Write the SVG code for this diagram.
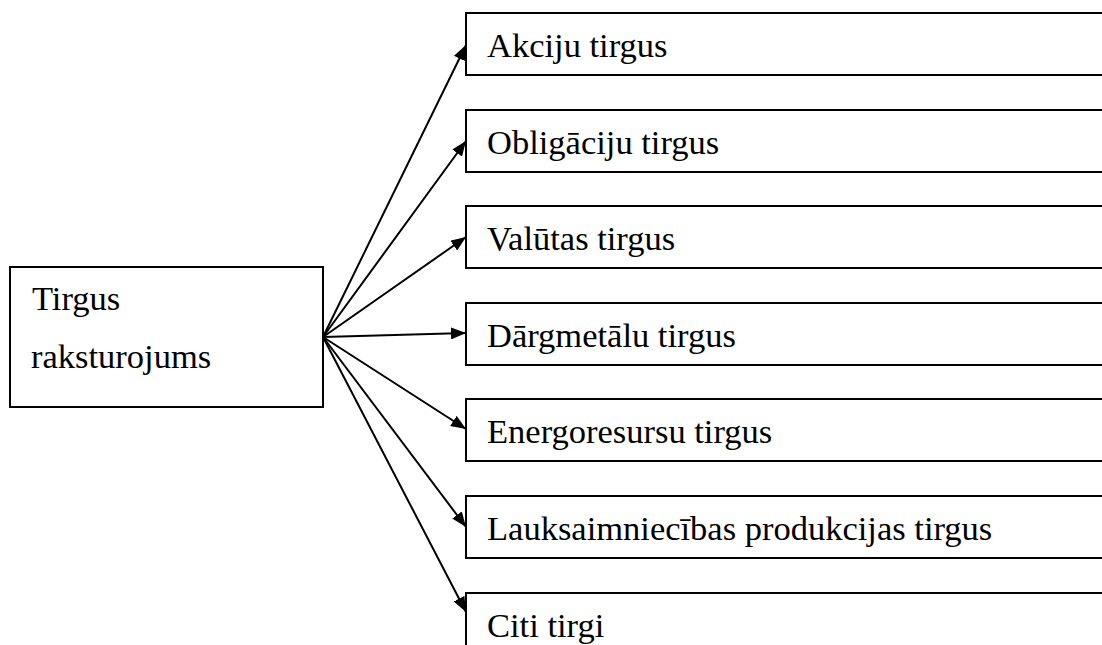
<svg xmlns="http://www.w3.org/2000/svg" width="1102" height="645" viewBox="0 0 1102 645">
<style>
.box{fill:#fff;stroke:#000;stroke-width:2}
.t{font-family:"Liberation Serif","Times New Roman",serif;font-size:34.5px;fill:#000}
.c{stroke:#000;stroke-width:2;fill:none;marker-end:url(#ah)}
</style>
<defs>
<marker id="ah" markerUnits="userSpaceOnUse" markerWidth="16" markerHeight="12" refX="15" refY="6" orient="auto">
<path d="M0,0 L15,6 L0,12 z" fill="#000"/>
</marker>
</defs>
<rect width="1102" height="645" fill="#fff"/>
<g id="connectors">
<line class="c" x1="323" y1="337" x2="466" y2="45"/>
<line class="c" x1="323" y1="337" x2="466" y2="141"/>
<line class="c" x1="323" y1="337" x2="466" y2="237"/>
<line class="c" x1="323" y1="337" x2="466" y2="333"/>
<line class="c" x1="323" y1="337" x2="466" y2="429"/>
<line class="c" x1="323" y1="337" x2="466" y2="527"/>
<line class="c" x1="323" y1="337" x2="466" y2="612"/>
</g>
<g id="tirgus-raksturojums">
<rect class="box" x="10" y="267" width="313" height="140"/>
<text class="t" x="32" y="310">Tirgus</text>
<text class="t" x="31" y="368">raksturojums</text>
</g>
<g id="akciju">
<rect class="box" x="466" y="13" width="700" height="62"/>
<text class="t" x="487" y="57">Akciju tirgus</text>
</g>
<g id="obligaciju">
<rect class="box" x="466" y="110" width="700" height="62"/>
<text class="t" x="487" y="154">Obligāciju tirgus</text>
</g>
<g id="valutas">
<rect class="box" x="466" y="206" width="700" height="62"/>
<text class="t" x="487" y="250">Valūtas tirgus</text>
</g>
<g id="dargmetalu">
<rect class="box" x="466" y="303" width="700" height="62"/>
<text class="t" x="487" y="347">Dārgmetālu tirgus</text>
</g>
<g id="energoresursu">
<rect class="box" x="466" y="399" width="700" height="62"/>
<text class="t" x="487" y="443">Energoresursu tirgus</text>
</g>
<g id="lauksaimniecibas">
<rect class="box" x="466" y="496" width="700" height="62"/>
<text class="t" x="487" y="540">Lauksaimniecības produkcijas tirgus</text>
</g>
<g id="citi">
<rect class="box" x="466" y="593" width="700" height="62"/>
<text class="t" x="487" y="637">Citi tirgi</text>
</g>
</svg>
